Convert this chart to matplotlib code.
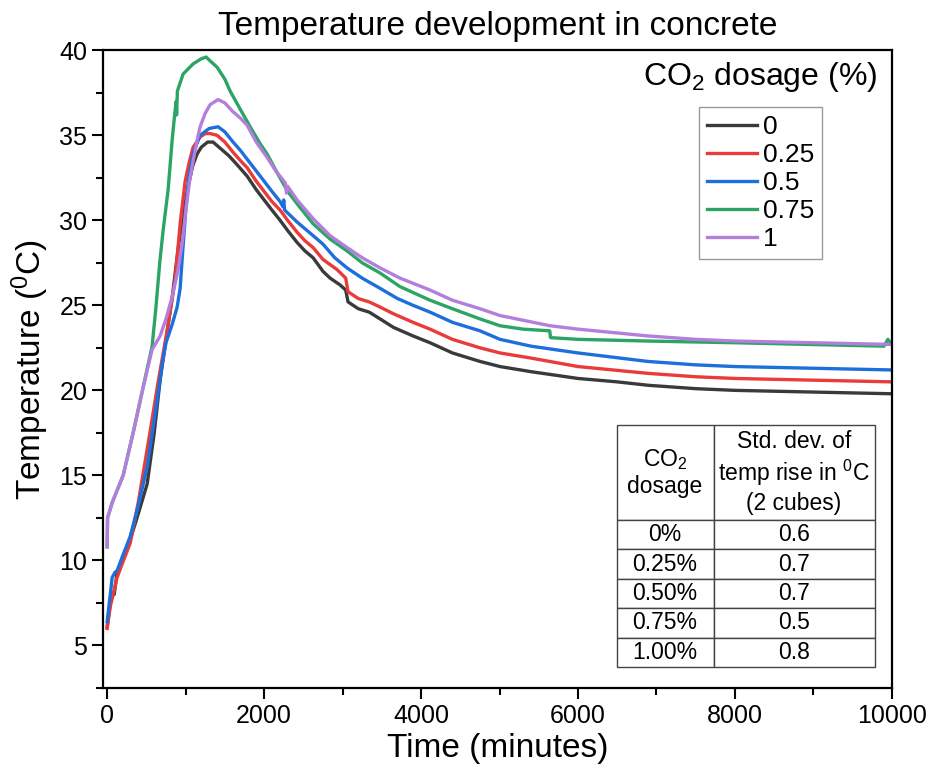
import matplotlib.pyplot as plt
from matplotlib.ticker import MultipleLocator

plt.rcParams['font.family'] = ['Liberation Sans', 'DejaVu Sans']
plt.rcParams['mathtext.fontset'] = 'custom'
plt.rcParams['mathtext.rm'] = 'Liberation Sans'
plt.rcParams['mathtext.it'] = 'Liberation Sans:italic'

# CO2 dosage 0 %
t0 = [0, 40, 76, 90, 127, 200, 293, 400, 510, 600, 675, 750, 830, 904, 970, 1032, 1090, 1146, 1200,
      1280, 1350, 1450, 1550, 1650, 1783, 1900, 2000, 2100, 2204, 2300, 2420, 2520, 2624, 2750, 2841,
      2968, 3040, 3070, 3200, 3340, 3478, 3650, 3898, 4115, 4400, 4752, 5006, 5400, 6000, 6500, 6892,
      7500, 8000, 9000, 10000]
T0 = [6.1, 7.5, 8.1, 8.0, 9.3, 10.2, 11.2, 12.8, 14.5, 17.5, 20.6, 23.0, 25.5, 28.3, 30.4, 32.0, 33.2, 33.9, 34.3,
      34.6, 34.6, 34.2, 33.8, 33.3, 32.6, 31.8, 31.2, 30.6, 30.0, 29.4, 28.7, 28.2, 27.8, 27.0, 26.6,
      26.2, 25.9, 25.2, 24.8, 24.6, 24.2, 23.7, 23.2, 22.8, 22.2, 21.7, 21.4, 21.1, 20.7, 20.5, 20.3,
      20.1, 20.0, 19.9, 19.8]

# 0.25 %
t1 = [0, 40, 127, 200, 293, 400, 548, 650, 764, 866, 930, 994, 1050, 1096, 1185, 1250, 1312, 1400,
      1500, 1605, 1700, 1783, 1900, 2000, 2100, 2204, 2300, 2420, 2520, 2624, 2750, 2930, 3040, 3070,
      3200, 3340, 3478, 3650, 3898, 4115, 4400, 4752, 5006, 5400, 6000, 6892, 7500, 8000, 9000, 10000]
T1 = [6.0, 7.3, 9.0, 9.9, 11.0, 13.5, 17.6, 20.5, 23.5, 26.5, 29.8, 32.3, 33.5, 34.3, 34.9, 35.1, 35.1, 35.0,
      34.6, 34.0, 33.5, 33.1, 32.3, 31.7, 31.1, 30.6, 30.0, 29.3, 28.8, 28.4, 27.7, 27.1, 26.6, 25.8,
      25.4, 25.2, 24.9, 24.5, 24.0, 23.6, 23.0, 22.5, 22.2, 21.9, 21.4, 21.0, 20.8, 20.7, 20.6, 20.5]

# 0.5 %
t2 = [0, 40, 64, 100, 127, 200, 293, 400, 510, 640, 700, 750, 830, 892, 930, 960, 1000, 1040, 1100,
      1185, 1300, 1414, 1500, 1605, 1700, 1783, 1900, 2000, 2100, 2204, 2240, 2250, 2262, 2420, 2624,
      2750, 2900, 3057, 3250, 3478, 3700, 3898, 4115, 4400, 4752, 5006, 5400, 6000, 6892, 7500, 8000,
      9000, 10000]
T2 = [6.4, 8.0, 9.0, 9.3, 9.4, 10.3, 11.4, 13.3, 15.5, 19.5, 21.5, 22.8, 23.9, 24.9, 26.0, 28.0, 30.5, 32.5, 34.0,
      35.0, 35.4, 35.5, 35.2, 34.6, 34.1, 33.6, 32.9, 32.3, 31.7, 31.1, 30.8, 31.2, 30.6, 29.9, 29.1,
      28.6, 27.8, 27.2, 26.6, 26.0, 25.4, 25.0, 24.6, 24.0, 23.5, 23.0, 22.6, 22.2, 21.7, 21.5, 21.4,
      21.3, 21.2]

# 0.75 %
t3 = [0, 5, 64, 204, 331, 450, 573, 620, 670, 713, 777, 828, 860, 880, 885, 895, 968, 1096, 1200, 1261,
      1330, 1401, 1500, 1567, 1700, 1822, 1950, 2038, 2166, 2300, 2450, 2624, 2840, 3057, 3250, 3478,
      3732, 4115, 4400, 4752, 5006, 5300, 5640, 5650, 6000, 6892, 8000, 9900, 9950, 10000]
T3 = [10.8, 12.5, 13.4, 15.0, 17.5, 20.0, 22.6, 24.8, 27.5, 29.4, 31.8, 34.7, 36.2, 37.0, 36.2, 37.6, 38.6, 39.2, 39.5, 39.6,
      39.3, 39.0, 38.3, 37.6, 36.5, 35.5, 34.5, 33.9, 32.8, 31.7, 30.8, 29.8, 28.9, 28.2, 27.5, 26.9,
      26.1, 25.3, 24.8, 24.2, 23.8, 23.6, 23.5, 23.1, 23.0, 22.9, 22.8, 22.6, 23.0, 22.7]

# 1 %
t4 = [0, 5, 64, 204, 331, 450, 573, 675, 750, 828, 900, 955, 1000, 1050, 1096, 1146, 1185, 1250, 1312,
      1414, 1500, 1600, 1700, 1783, 1900, 2038, 2150, 2270, 2285, 2300, 2420, 2624, 2840, 3057, 3250,
      3478, 3732, 4115, 4400, 4752, 5006, 5643, 6000, 6892, 7500, 8000, 9000, 10000]
T4 = [10.8, 12.5, 13.4, 15.0, 17.5, 20.0, 22.4, 23.2, 24.2, 25.5, 27.0, 28.6, 30.5, 32.3, 33.5, 34.7, 35.5, 36.3, 36.8,
      37.1, 36.9, 36.4, 36.0, 35.6, 34.6, 33.7, 32.9, 32.2, 31.6, 32.0, 31.2, 30.1, 29.1, 28.4, 27.8,
      27.2, 26.6, 25.9, 25.3, 24.8, 24.4, 23.8, 23.6, 23.2, 23.0, 22.9, 22.8, 22.7]

times = [t0, t1, t2, t3, t4]
temps = [T0, T1, T2, T3, T4]
labels = ['0', '0.25', '0.5', '0.75', '1']
colors = ['#3a3a3a', '#ea3b3b', '#1d6fdc', '#2ca466', '#b47edd']

table_dosage = ['0%', '0.25%', '0.50%', '0.75%', '1.00%']
table_std = ['0.6', '0.7', '0.7', '0.5', '0.8']

fig = plt.figure(figsize=(9.3, 7.73), dpi=100)
ax = fig.add_axes([0.111, 0.110, 0.848, 0.825])

for t, T, lab, c in zip(times, temps, labels, colors):
    ax.plot(t, T, color=c, lw=2.4, label=lab, solid_joinstyle='round')

ax.set_xlim(-50, 10000)
ax.set_ylim(2.5, 40)
ax.xaxis.set_major_locator(MultipleLocator(2000))
ax.xaxis.set_minor_locator(MultipleLocator(1000))
ax.yaxis.set_major_locator(MultipleLocator(5))
ax.yaxis.set_minor_locator(MultipleLocator(2.5))
ax.tick_params(which='both', direction='out', width=1.5, labelsize=18)
ax.tick_params(which='major', length=8)
ax.tick_params(which='minor', length=5)
for s in ax.spines.values():
    s.set_linewidth(1.6)

ax.set_title('Temperature development in concrete', fontsize=24, pad=11)
ax.set_xlabel('Time (minutes)', fontsize=24, labelpad=4)
ax.set_ylabel('Temperature ($^0$C)', fontsize=24, labelpad=6)

leg = ax.legend(loc='upper right', bbox_to_anchor=(0.911, 0.911), fontsize=19,
                frameon=True, fancybox=False, edgecolor='#999999', framealpha=1,
                handlelength=1.9, handletextpad=0.2, labelspacing=0.15,
                borderpad=0.3, borderaxespad=0)
leg.get_frame().set_linewidth(1.0)
ax.text(0.982, 0.958, 'CO$_2$ dosage (%)', transform=ax.transAxes,
        ha='right', va='center', fontsize=23)

cell_text = [['CO$_2$\ndosage', 'Std. dev. of\ntemp rise in $^0$C\n(2 cubes)']]
cell_text += [[d, s] for d, s in zip(table_dosage, table_std)]
tab = ax.table(cellText=cell_text, cellLoc='center', colWidths=[97, 161],
               bbox=[0.651, 0.033, 0.327, 0.379])
tab.auto_set_font_size(False)
tab.set_fontsize(16.5)
for (r, c), cell in tab.get_celld().items():
    cell.set_edgecolor('#444444')
    cell.set_linewidth(1.0)
    cell.set_height(95 if r == 0 else 29.4)

fig.savefig('out.png', dpi=100)
